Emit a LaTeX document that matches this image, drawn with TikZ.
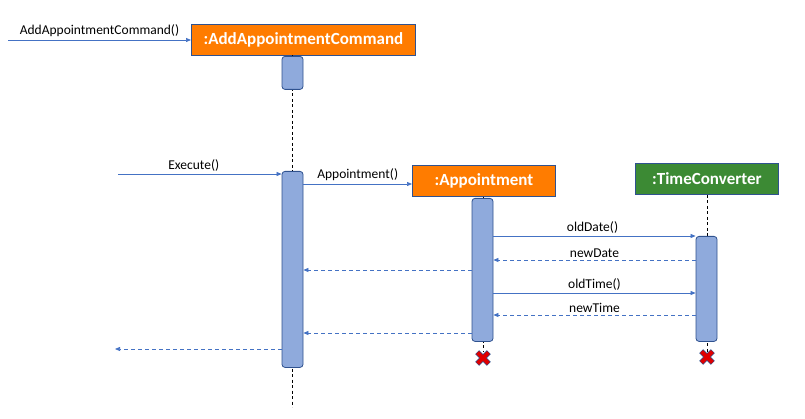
\documentclass[tikz,border=0pt]{standalone}
\usepackage{fontspec}
\setmainfont{Carlito}
\usetikzlibrary{arrows.meta,calc}
\definecolor{msgblue}{HTML}{4472C4}
\definecolor{edgeblue}{HTML}{2F528F}
\definecolor{barfill}{HTML}{8FAADC}
\definecolor{objorange}{HTML}{FF7C00}
\definecolor{objgreen}{HTML}{3C8A34}
\definecolor{xred}{HTML}{E00000}
\tikzset{
  objbox/.style={draw=edgeblue, line width=0.8pt, text=white, font=\fontsize{17}{19}\selectfont\bfseries, inner sep=0pt, minimum height=31pt},
  actbar/.style={draw=edgeblue, line width=0.8pt, fill=barfill, rounded corners=3pt, minimum width=21pt, inner sep=0pt, anchor=north},
  lifeline/.style={dashed, dash pattern=on 3pt off 2.5pt, line width=0.8pt, black},
  call/.style={msgblue, line width=0.7pt, -{Triangle[length=5pt,width=4pt]}},
  reply/.style={msgblue, line width=0.7pt, dash pattern=on 4pt off 3pt, -{Triangle[length=5pt,width=4pt]}},
  lbl/.style={font=\fontsize{13.5}{15}\selectfont, text=black, inner sep=2.5pt, above},
}
\newcommand{\redx}[1]{%
  \draw[edgeblue, line width=5.6pt] ($(#1)+(-5.8,-5.8)$) -- ($(#1)+(5.8,5.8)$) ($(#1)+(-5.8,5.8)$) -- ($(#1)+(5.8,-5.8)$);
  \draw[xred, line width=4pt] ($(#1)+(-5.4,-5.4)$) -- ($(#1)+(5.4,5.4)$) ($(#1)+(-5.4,5.4)$) -- ($(#1)+(5.4,-5.4)$);}
\begin{document}
\begin{tikzpicture}[x=1pt, y=-1pt]
\useasboundingbox (0,0) rectangle (805,419);
% objects
\node[objbox, fill=objorange, minimum width=224pt, anchor=north west] (cmd) at (191,24) {:AddAppointmentCommand};
\node[objbox, fill=objorange, minimum width=143pt, anchor=north west] (appt) at (412,165) {:Appointment};
\node[objbox, fill=objgreen, minimum width=143pt, anchor=north west] (tc) at (635,163) {:TimeConverter};
% lifelines
\coordinate (cmdend) at (292,407);
\coordinate (apptx) at (483,352);
\coordinate (tcx) at (707,352);
\draw[lifeline] (292,55) -- (cmdend);
\draw[lifeline] (appt.south -| apptx) -- (apptx);
\draw[lifeline] (tc.south -| tcx) -- (tcx);
% activation bars
\node[actbar, minimum height=33pt] (b0) at (292.5,56) {};
\node[actbar, minimum height=196pt] (b1) at (292.5,171) {};
\node[actbar, minimum height=143pt] (b2) at (482.5,198) {};
\node[actbar, minimum height=105pt] (b3) at (706.5,236) {};
% destruction marks
\coordinate (x2) at (483,358);
\coordinate (x3) at (707,357);
\redx{x2}
\redx{x3}
% free ends
\coordinate (s0) at (8,40);
\coordinate (s1) at (118,174);
\coordinate (r0) at (115,349);
% messages
\draw[call] (s0) -- node[lbl] {AddAppointmentCommand()} (cmd.west |- s0);
\draw[call] (s1) -- node[lbl, xshift=-6pt] {Execute()} (b1.west |- s1);
\coordinate (y1) at (0,184);
\draw[call] (b1.east |- y1) -- node[lbl] {Appointment()} (appt.west |- y1);
\coordinate (y2) at (0,236);
\draw[call] (b2.east |- y2) -- node[lbl, xshift=-2pt] {oldDate()} (b3.west |- y2);
\coordinate (y3) at (0,260);
\draw[reply] (b3.west |- y3) -- node[lbl] {newDate} (b2.east |- y3);
\coordinate (y4) at (0,270);
\draw[reply] (b2.west |- y4) -- (b1.east |- y4);
\coordinate (y5) at (0,293);
\draw[call] (b2.east |- y5) -- node[lbl] {oldTime()} (b3.west |- y5);
\coordinate (y6) at (0,315);
\draw[reply] (b3.west |- y6) -- node[lbl] {newTime} (b2.east |- y6);
\coordinate (y7) at (0,333);
\draw[reply] (b2.west |- y7) -- (b1.east |- y7);
\draw[reply] (b1.west |- r0) -- (r0);
\end{tikzpicture}
\end{document}
